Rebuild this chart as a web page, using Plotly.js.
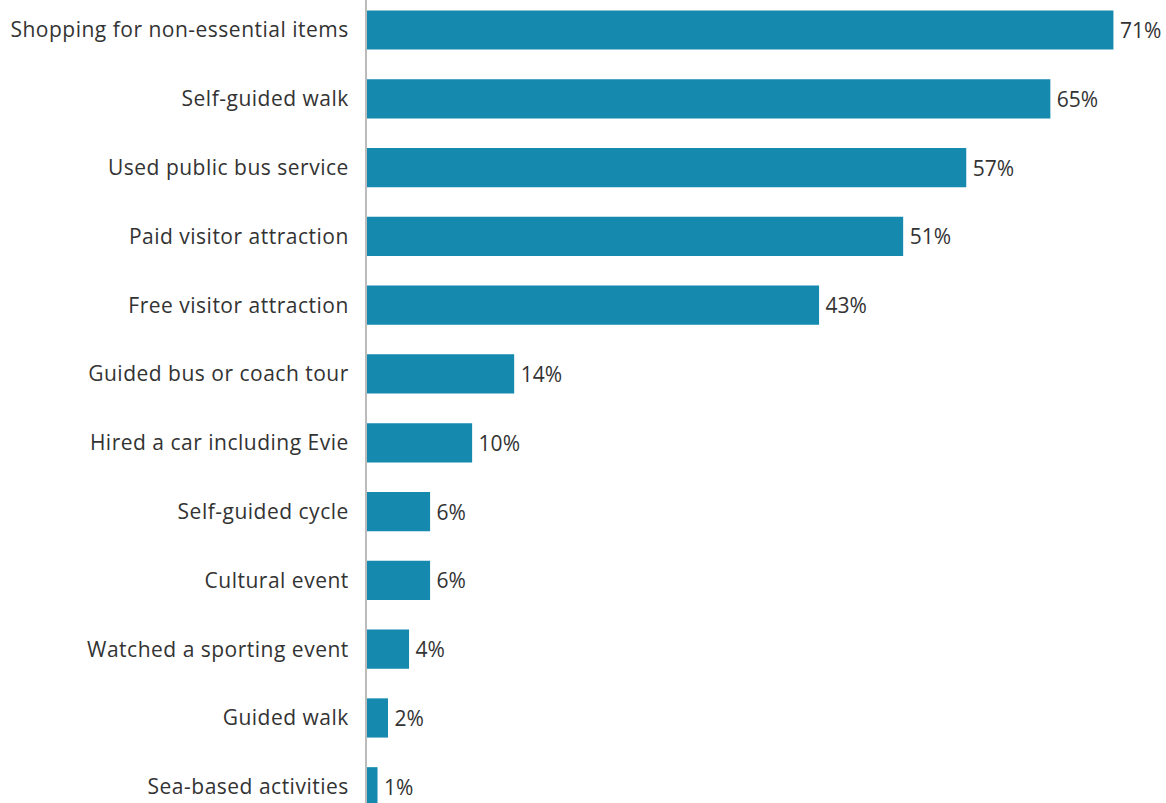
<!DOCTYPE html>
<html><head><meta charset="utf-8">
<script src="https://cdn.plot.ly/plotly-3.0.1.min.js"></script>
<style>html,body{margin:0;padding:0;background:#fff}#c{width:1166px;height:803px}
.ytick text{letter-spacing:0.5px}
.textpoint text{letter-spacing:0.4px}</style>
</head><body><div id="c"></div>
<script>
const categories = ["Shopping for non-essential items","Self-guided walk","Used public bus service","Paid visitor attraction","Free visitor attraction","Guided bus or coach tour","Hired a car including Evie","Self-guided cycle","Cultural event","Watched a sporting event","Guided walk","Sea-based activities"];
const values = [71,65,57,51,43,14,10,6,6,4,2,1];
const labels = values.map(v => "\u2009" + v + "%");
const trace = {
  type: "bar", orientation: "h", x: values, y: categories.map((c,i)=>i),
  text: labels, textposition: "outside", cliponaxis: false,
  textfont: {family: "Open Sans, sans-serif", size: 21, color: "#333"},
  marker: {color: "#1589AE"}, hoverinfo: "none", width: 0.57
};
const layout = {
  width: 1166, height: 803, margin: {l: 367, r: 0, t: 0, b: 0},
  paper_bgcolor: "#fff", plot_bgcolor: "#fff", showlegend: false,
  font: {family: "Open Sans, sans-serif", size: 21, color: "#333"},
  xaxis: {range: [0, 76.0], visible: false, fixedrange: true},
  yaxis: {range: [11.236, -0.436], tickmode: "array", tickvals: categories.map((c,i)=>i), ticktext: categories,
    showline: true, linecolor: "#bbb", linewidth: 2, showgrid: false, zeroline: false, ticks: "", ticklabelstandoff: 12,
    tickfont: {family: "Open Sans, sans-serif", size: 21, color: "#333"}}
};
Plotly.newPlot("c", [trace], layout, {displayModeBar: false, staticPlot: true});
</script></body></html>
